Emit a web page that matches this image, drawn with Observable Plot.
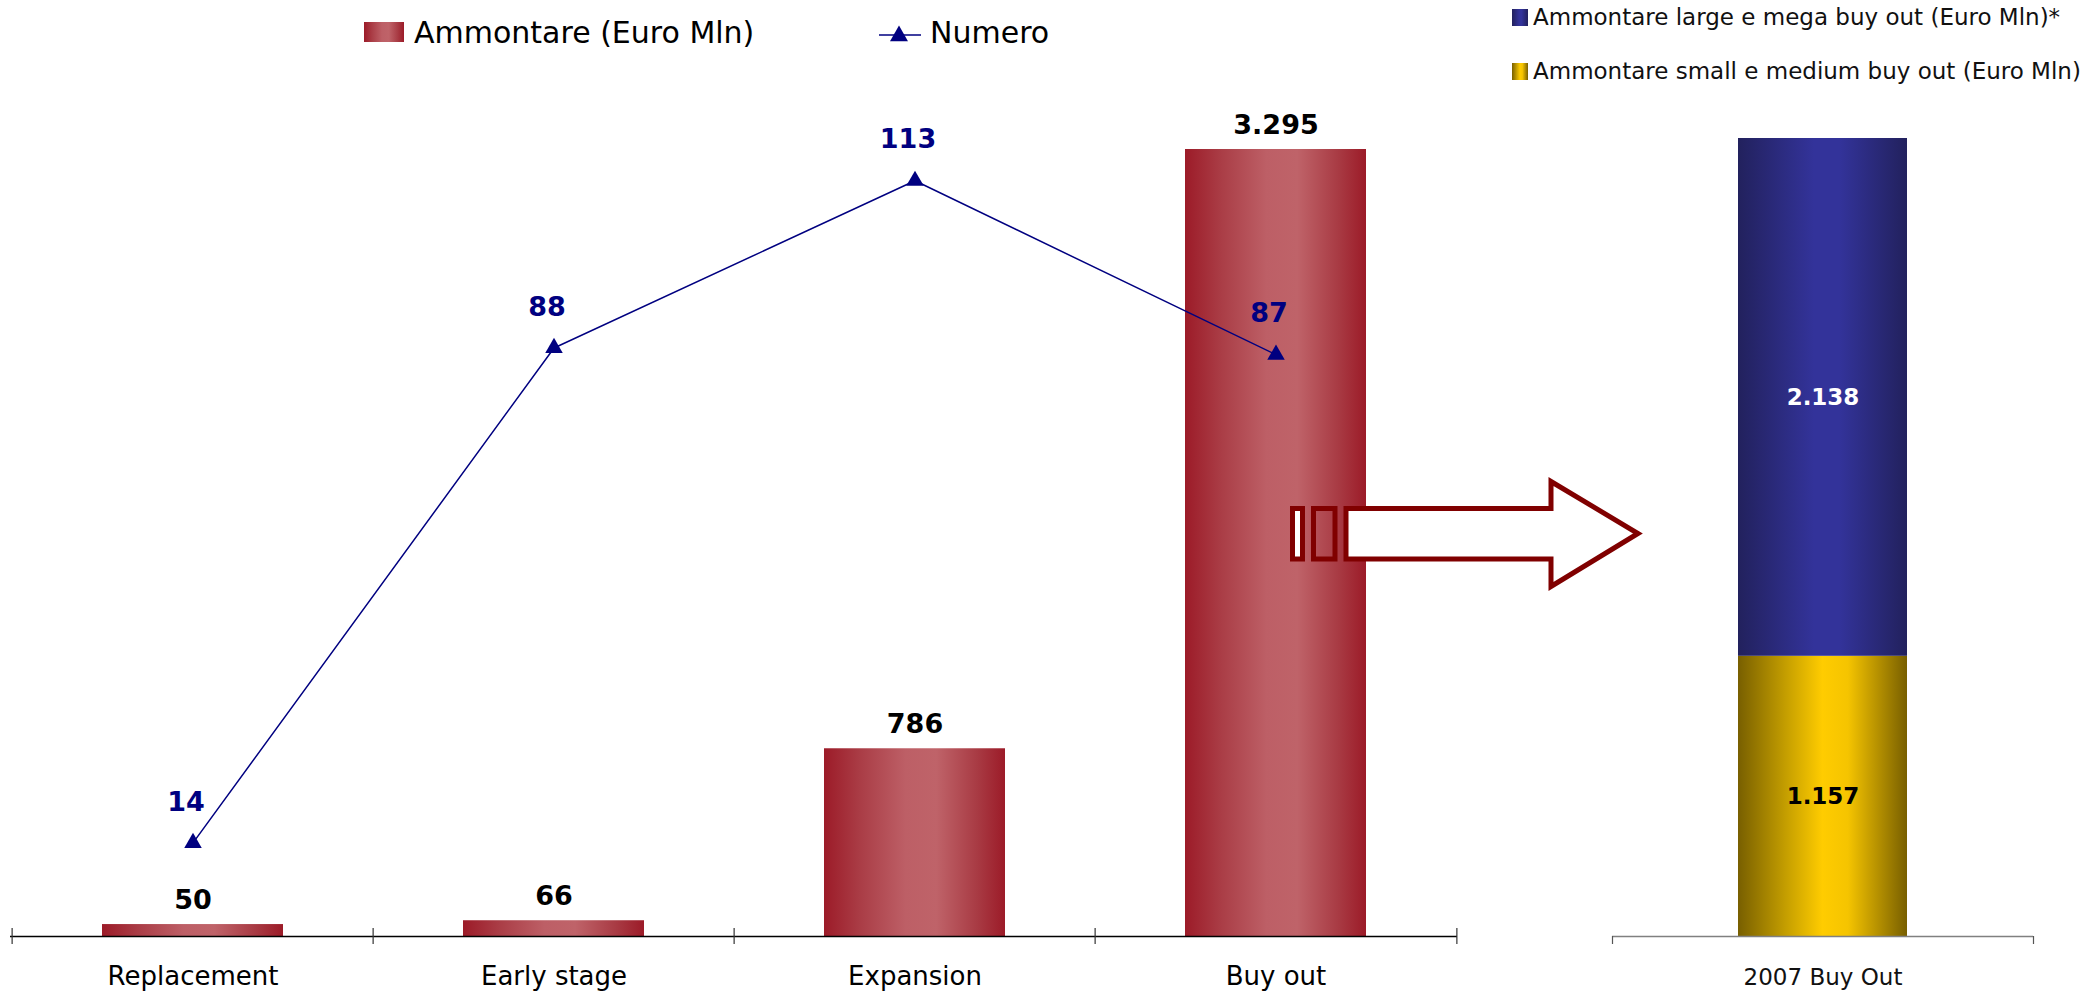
<!DOCTYPE html>
<html>
<head>
<meta charset="utf-8">
<script src="https://cdn.jsdelivr.net/npm/d3@7"></script>
<script src="https://cdn.jsdelivr.net/npm/@observablehq/plot@0.6"></script>
<style>
  html, body { margin: 0; padding: 0; background: #fff; }
  #page { position: relative; width: 2100px; height: 999px; overflow: hidden; font-family: "DejaVu Sans", sans-serif; }
  #left { position: absolute; left: 0; top: 60px; }
  #right { position: absolute; left: 1470px; top: 60px; }
  #overlay { position: absolute; left: 0; top: 0; pointer-events: none; }
</style>
</head>
<body>
<div id="page">
  <div id="left"></div>
  <div id="right"></div>
  <svg id="overlay" width="2100" height="999"></svg>
</div>
<script>
// ---------------- DATA ----------------
const categories = ["Replacement", "Early stage", "Expansion", "Buy out"];
const ammontare = [50, 66, 786, 3295];          // Euro Mln
const numero = [14, 88, 113, 87];               // number of deals
const buyoutCategory = ["2007 Buy Out"];
const buyoutSeries = ["Ammontare small e medium buy out (Euro Mln)", "Ammontare large e mega buy out (Euro Mln)*"];
const buyoutValues = [1157, 2138];
const legendLeft = ["Ammontare (Euro Mln)", "Numero"];

// secondary axis factor: Numero plotted against the amount scale
const K = 28;

const itLocale = d3.formatLocale({decimal: ",", thousands: ".", grouping: [3], currency: ["€", ""]});
const fmt = itLocale.format(",d");

const data = categories.map((c, i) => ({cat: c, amount: ammontare[i], numero: numero[i]}));
const base = d3.cumsum([0, ...buyoutValues]);
const stackData = buyoutSeries.map((s, i) => ({cat: buyoutCategory[0], series: s, value: buyoutValues[i], base: base[i]}));

const FONT = "DejaVu Sans";

function addGradients(svg, prefix) {
  const defs = d3.select(svg).insert("defs", ":first-child");
  const grads = {
    red: [[0, "#9c1b28"], [0.2, "#aa3d46"], [0.45, "#bd5f66"], [0.62, "#bf6369"], [0.85, "#a83a43"], [1, "#9c1b28"]],
    blue: [[0, "#22215d"], [0.45, "#33339a"], [0.6, "#33339a"], [1, "#22215d"]],
    yellow: [[0, "#785f00"], [0.3, "#c9a200"], [0.5, "#ffcc00"], [0.65, "#f5c400"], [1, "#785f00"]]
  };
  for (const [name, stops] of Object.entries(grads)) {
    const g = defs.append("linearGradient").attr("id", prefix + name).attr("x1", 0).attr("x2", 1).attr("y1", 0).attr("y2", 0);
    for (const [o, c] of stops) g.append("stop").attr("offset", o).attr("stop-color", c);
  }
}

// ---------------- LEFT CHART ----------------
const LW = 1470, LH = 939, LML = 10, LMR = 13;
const halfStep = (LW - LML - LMR) / categories.length / 2;

const left = Plot.plot({
  width: LW, height: LH,
  marginTop: 89, marginBottom: 63, marginLeft: LML, marginRight: LMR,
  x: {domain: categories, paddingInner: 0.5, paddingOuter: 0.25, axis: null},
  y: {domain: [0, 3295], axis: null},
  style: {fontFamily: FONT, background: "transparent", overflow: "visible"},
  marks: [
    Plot.barY(data, {x: "cat", y: "amount", fill: "url(#Lred)"}),
    Plot.ruleY([0], {stroke: "#000", strokeWidth: 1.5}),
    Plot.ruleX(categories, {x: d => d, dx: -halfStep, y1: -33, y2: 33, stroke: "#333", strokeWidth: 1.2}),
    Plot.ruleX([categories[categories.length - 1]], {x: d => d, dx: halfStep, y1: -33, y2: 33, stroke: "#333", strokeWidth: 1.2}),
    Plot.line(data, {x: "cat", y: d => d.numero * K, stroke: "#000080", strokeWidth: 1.5}),
    Plot.dot(data, {x: "cat", y: d => d.numero * K, symbol: "triangle", r: 6.5, fill: "#000080", stroke: "none"}),
    Plot.text(data, {x: "cat", y: "amount", text: d => fmt(d.amount), dy: -24, fontSize: 27, fontWeight: "bold", fill: "#000"}),
    Plot.text(data, {x: "cat", y: d => d.numero * K, text: d => fmt(d.numero), dy: -41, dx: -7, fontSize: 27, fontWeight: "bold", fill: "#000080"}),
    Plot.text(categories, {x: d => d, y: 0, dy: 40, text: d => d, fontSize: 26, fill: "#000"})
  ]
});
addGradients(left, "L");
document.getElementById("left").appendChild(left);

// ---------------- RIGHT CHART ----------------
const RW = 630, RH = 939, RML = 142, RMR = 67;
const halfAxis = (RW - RML - RMR) / 2;

const right = Plot.plot({
  width: RW, height: RH,
  marginTop: 78, marginBottom: 63, marginLeft: RML, marginRight: RMR,
  x: {domain: buyoutCategory, padding: 0.427, axis: null},
  y: {domain: [0, 3295], axis: null},
  color: {domain: buyoutSeries, range: ["url(#Ryellow)", "url(#Rblue)"]},
  style: {fontFamily: FONT, background: "transparent", overflow: "visible"},
  marks: [
    Plot.barY(stackData, {x: "cat", y: "value", fill: "series"}),
    Plot.ruleY([0], {stroke: "#808080", strokeWidth: 1.5}),
    Plot.ruleX(buyoutCategory, {x: d => d, dx: -halfAxis, y1: 0, y2: -33, stroke: "#555", strokeWidth: 1.2}),
    Plot.ruleX(buyoutCategory, {x: d => d, dx: halfAxis, y1: 0, y2: -33, stroke: "#555", strokeWidth: 1.2}),
    Plot.text(stackData.filter(d => d.series === buyoutSeries[1]), {x: "cat", y: d => d.base + d.value / 2, text: d => fmt(d.value), fontSize: 23, fontWeight: "bold", fill: "#fff"}),
    Plot.text(stackData.filter(d => d.series === buyoutSeries[0]), {x: "cat", y: d => d.base + d.value / 2, text: d => fmt(d.value), fontSize: 23, fontWeight: "bold", fill: "#000"}),
    Plot.text(buyoutCategory, {x: d => d, y: 0, dy: 41, text: d => d, fontSize: 23, fill: "#111"})
  ]
});
addGradients(right, "R");
document.getElementById("right").appendChild(right);

// ---------------- LEGENDS & ARROW (overlay) ----------------
const ov = d3.select("#overlay");
addGradients(ov.node(), "O");

// left legend
ov.append("rect").attr("x", 364).attr("y", 22).attr("width", 40).attr("height", 20).attr("fill", "url(#Ored)");
ov.append("text").attr("x", 414).attr("y", 43).attr("font-family", FONT).attr("font-size", 30).attr("fill", "#000").text(legendLeft[0]);
ov.append("line").attr("x1", 879).attr("x2", 921).attr("y1", 35).attr("y2", 35).attr("stroke", "#000080").attr("stroke-width", 1.5);
ov.append("path").attr("d", d3.symbol(d3.symbolTriangle, 140)()).attr("transform", "translate(899,36)").attr("fill", "#000080");
ov.append("text").attr("x", 930).attr("y", 43).attr("font-family", FONT).attr("font-size", 30).attr("fill", "#000").text(legendLeft[1]);

// right legend (top row: large/mega, bottom row: small/medium)
const rl = [[buyoutSeries[1], "url(#Oblue)", 9], [buyoutSeries[0], "url(#Oyellow)", 63]];
for (const [label, fill, y] of rl) {
  ov.append("rect").attr("x", 1512).attr("y", y).attr("width", 16).attr("height", 17).attr("fill", fill);
  ov.append("text").attr("x", 1533).attr("y", y + 16).attr("font-family", FONT).attr("font-size", 23).attr("fill", "#111").text(label);
}

// decorative arrow from the Buy out bar to the breakdown
const ar = ov.append("g").attr("stroke", "#800000").attr("stroke-width", 5).attr("stroke-linejoin", "miter");
ar.append("rect").attr("x", 1292.5).attr("y", 508.5).attr("width", 10).attr("height", 50.5).attr("fill", "#fff");
ar.append("rect").attr("x", 1313.5).attr("y", 508.5).attr("width", 21.5).attr("height", 50.5).attr("fill", "none");
ar.append("path").attr("d", "M1346,508.5H1551V481.5L1638,533.5L1551,586.5V559H1346Z").attr("fill", "#fff");
</script>
</body>
</html>
